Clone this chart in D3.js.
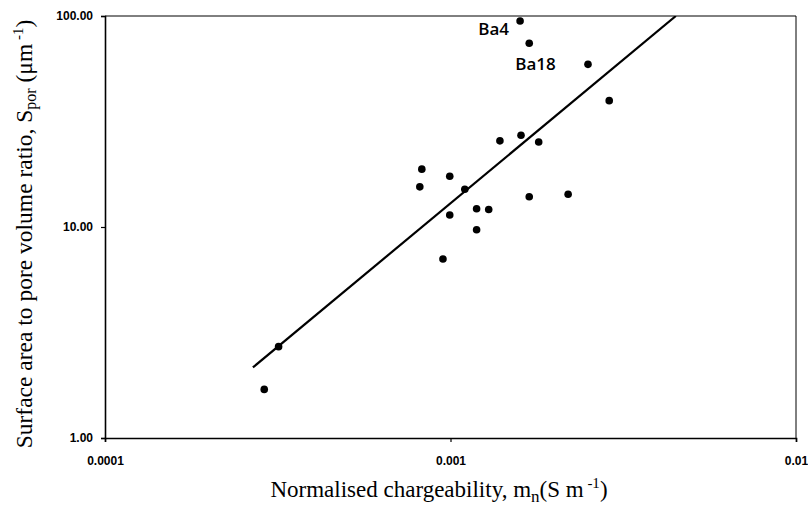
<!DOCTYPE html>
<html>
<head>
<meta charset="utf-8">
<script src="https://cdn.jsdelivr.net/npm/d3@7"></script>
<style>
    body { margin: 0; background: #fff; }
    #chart { width: 808px; height: 506px; }
</style>
</head>
<body>
<div id="chart"></div>
<script>
// Normalised chargeability (S/m) and surface area to pore volume ratio (1/um)
const chargeability = [0.00159, 0.00169, 0.00250, 0.00288, 0.00139, 0.00160, 0.00180,
    0.000826, 0.000815, 0.000995, 0.00110, 0.00169, 0.00219, 0.000995, 0.00119,
    0.00129, 0.00119, 0.000951, 0.000318, 0.000289];
const spor = [94.7, 74.3, 59.0, 39.7, 25.6, 27.2, 25.3,
    18.8, 15.5, 17.4, 15.1, 13.9, 14.3, 11.4, 12.2,
    12.1, 9.7, 7.05, 2.71, 1.70];

// fitted power law, drawn between these two ends
const fitX = [0.000268, 0.00449];
const fitY = [2.16, 100];

// labelled samples
const labelNames = ["Ba4", "Ba18"];
const labelIndex = [0, 1];

const xTicks = [0.0001, 0.001, 0.01];
const xTickLabels = ["0.0001", "0.001", "0.01"];
const yTicks = [1, 10, 100];
const yTickLabels = ["1.00", "10.00", "100.00"];

let margin = {top: 16, right: 12, bottom: 68, left: 105};
let width = 808 - margin.left - margin.right;
let height = 506 - margin.top - margin.bottom;

let svg = d3.select("#chart").append("svg")
    .attr("width", 808)
    .attr("height", 506);

let g = svg.append("g")
    .attr("transform", `translate(${margin.left}, ${margin.top})`);

let x = d3.scaleLog().domain([0.0001, 0.01]).range([0, width]);
let y = d3.scaleLog().domain([1, 100]).range([height, 0]);

g.append("clipPath").attr("id", "plot-clip")
    .append("rect").attr("width", width).attr("height", height);

// top and right border of the box
g.append("path")
    .attr("d", `M0,0H${width}V${height}`)
    .attr("fill", "none")
    .attr("stroke", "#000")
    .attr("stroke-width", 1);

// axes
let xAxis = d3.axisBottom(x)
    .tickValues(xTicks)
    .tickFormat((d, i) => xTickLabels[i])
    .tickSizeOuter(0)
    .tickSize(4)
    .tickPadding(14);

let yAxis = d3.axisLeft(y)
    .tickValues(yTicks)
    .tickFormat((d, i) => yTickLabels[i])
    .tickSizeOuter(0)
    .tickSize(4)
    .tickPadding(8);

g.append("g")
    .attr("transform", `translate(0, ${height})`)
    .call(xAxis);

g.append("g").call(yAxis);

g.selectAll(".domain").attr("stroke", "#000").attr("stroke-width", 1.6);
g.selectAll(".tick line").attr("stroke", "#000").attr("stroke-width", 1.2);
g.selectAll(".tick text")
    .attr("font-family", "'Liberation Sans', Arial, sans-serif")
    .attr("font-weight", "bold")
    .attr("font-size", 12)
    .attr("fill", "#000");

// regression line
let line = d3.line()
    .x(d => x(d[0]))
    .y(d => y(d[1]));

g.append("path")
    .datum(fitX.map((d, i) => [d, fitY[i]]))
    .attr("clip-path", "url(#plot-clip)")
    .attr("fill", "none")
    .attr("stroke", "#000")
    .attr("stroke-width", 2.2)
    .attr("d", line);

// points
g.selectAll(".dot")
    .data(chargeability.map((d, i) => [d, spor[i]]))
    .enter().append("circle")
    .attr("class", "dot")
    .attr("cx", d => x(d[0]))
    .attr("cy", d => y(d[1]))
    .attr("r", 3.8)
    .attr("fill", "#000");

// sample labels
let labelOffsets = [[-11, 14], [-14, 27]];
g.selectAll(".sample-label")
    .data(labelNames)
    .enter().append("text")
    .attr("class", "sample-label")
    .attr("x", (d, i) => x(chargeability[labelIndex[i]]) + labelOffsets[i][0])
    .attr("y", (d, i) => y(spor[labelIndex[i]]) + labelOffsets[i][1])
    .attr("text-anchor", (d, i) => i === 0 ? "end" : "start")
    .attr("font-family", "'Open Sans', sans-serif")
    .attr("font-weight", 600)
    .attr("font-size", 17)
    .text(d => d);

// axis titles
let titleFont = "'Liberation Serif', 'Times New Roman', serif";

let xTitle = svg.append("text")
    .attr("x", 439)
    .attr("y", 497)
    .attr("text-anchor", "middle")
    .attr("font-family", titleFont)
    .attr("font-size", 23);
xTitle.append("tspan").text("Normalised chargeability, m");
xTitle.append("tspan").attr("dy", 5).attr("font-size", 17).text("n");
xTitle.append("tspan").attr("dy", -5).text("(S m");
xTitle.append("tspan").attr("dy", -9).attr("font-size", 15).text(" -1");
xTitle.append("tspan").attr("dy", 9).text(")");

let yTitle = svg.append("text")
    .attr("transform", "translate(32, 234) rotate(-90)")
    .attr("text-anchor", "middle")
    .attr("font-family", titleFont)
    .attr("font-size", 23.5);
yTitle.append("tspan").text("Surface area to pore volume ratio, S");
yTitle.append("tspan").attr("dy", 4).attr("font-size", 16).text("por");
yTitle.append("tspan").attr("dy", -4).text(" (\u03bcm");
yTitle.append("tspan").attr("dy", -9).attr("font-size", 15).text(" -1");
yTitle.append("tspan").attr("dy", 9).text(")");
</script>
</body>
</html>
